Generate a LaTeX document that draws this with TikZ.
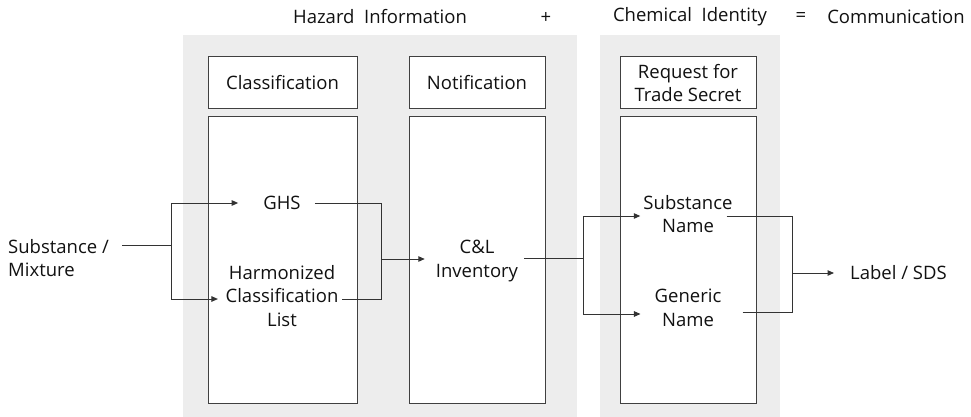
\documentclass[tikz,border=0pt]{standalone}
\usepackage{fontspec}
\setmainfont{Open Sans}
\usetikzlibrary{arrows.meta,calc}
\definecolor{panelgray}{HTML}{EDEDED}
\definecolor{ink}{HTML}{111111}
\begin{document}
\begin{tikzpicture}[x=1pt,y=-1pt,
  font=\fontsize{18.5}{23.5}\selectfont,
  panel/.style={rectangle, fill=panelgray, draw=none, inner sep=0pt},
  box/.style={rectangle, draw=black!75, line width=1pt, fill=white, inner sep=0pt},
  lbl/.style={inner sep=0pt, align=center, text=ink},
  link/.style={line width=1pt, draw=black!80},
  arr/.style={link, -{Triangle[length=6.5pt,width=5.5pt]}}]
  \useasboundingbox (0,0) rectangle (971,417);

  % grey background panels
  \node[panel, minimum width=394pt, minimum height=382pt] (hazPanel) at (380,226) {};
  \node[panel, minimum width=180pt, minimum height=382pt] (idPanel) at (690,226) {};

  % column headers
  \node[box, minimum width=149pt, minimum height=52pt, lbl] (hdrClass) at (282.5,83) {Classification};
  \node[box, minimum width=136pt, minimum height=52pt, lbl] (hdrNotif) at (477,83) {Notification};
  \node[box, minimum width=136pt, minimum height=52pt, lbl] (hdrReq) at (688,83) {Request for\\Trade Secret};

  % column bodies
  \node[box, minimum width=149pt, minimum height=286pt] (colClass) at (282.5,260) {};
  \node[box, minimum width=136pt, minimum height=286pt] (colNotif) at (477,260) {};
  \node[box, minimum width=136pt, minimum height=286pt] (colReq) at (688,260) {};

  % headline
  \node[lbl] (tHaz) at (380,17) {Hazard~ Information};
  \node[lbl] (tPlus) at (546,18) {+};
  \node[lbl] (tChem) at (690,17) {Chemical~ Identity};
  \node[lbl] (tEq) at (801,17) {=};
  \node[lbl] (tComm) at (896,17) {Communication};

  % items
  \node[lbl, align=left, anchor=west] (subst) at (8,258) {Substance /\\Mixture};
  \node[lbl] (ghs) at (282,203) {GHS};
  \node[lbl] (hcl) at (282,296) {Harmonized\\Classification\\List};
  \node[lbl] (cl) at (477,261) {C\&L\\Inventory};
  \node[lbl] (subn) at (688,214) {Substance\\Name};
  \node[lbl] (genn) at (688,308) {Generic\\Name};
  \node[lbl, anchor=west] (label) at (850,273) {Label / SDS};

  % junction points
  \coordinate (jIn) at (171,245);
  \coordinate (jHz) at (381,259);
  \coordinate (jCl) at (583,258);
  \coordinate (jCi) at (792,273);

  % connectors
  \draw[link] ($(subst.east |- jIn)+(13,0)$) -- (jIn);
  \draw[arr] (jIn) |- ($(ghs.west)+(-25,0)$);
  \draw[arr] (jIn) |- ($(hcl.west)+(-7.5,3)$);

  \draw[link] ($(ghs.east)+(14,0)$) -| (jHz);
  \draw[link] ($(hcl.east)+(3.5,3)$) -| (jHz);
  \draw[arr] (jHz) -- ($(cl.west |- jHz)+(-11,0)$);

  \draw[link] ($(cl.east |- jCl)+(6,0)$) -- (jCl);
  \draw[arr] (jCl) |- ($(subn.west)+(-3,2)$);
  \draw[arr] (jCl) |- ($(genn.west)+(-14,6)$);

  \draw[link] ($(subn.east)+(-6,2)$) -| (jCi);
  \draw[link] ($(genn.east)+(21,4)$) -| (jCi);
  \draw[arr] (jCi) -- ($(label.west)+(-16,0)$);
\end{tikzpicture}
\end{document}
